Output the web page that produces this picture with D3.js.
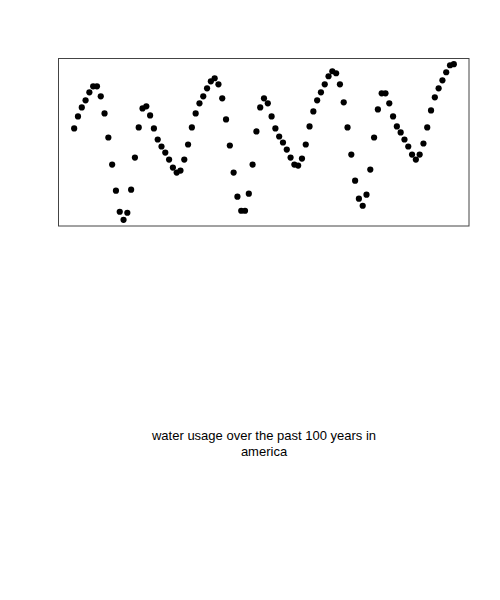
<!DOCTYPE html>
<html>
<head>
<meta charset="utf-8">
<script src="https://cdn.jsdelivr.net/npm/d3@7"></script>
<style>
  html, body { margin: 0; padding: 0; background: #fff; }
  svg { display: block; }
</style>
</head>
<body>
<svg id="chart" width="500" height="600"></svg>
<script>
const years = d3.range(0, 101);
const usage = [
  91, 103, 112, 119, 127, 133, 133, 123, 106, 82,
  55, 29, 8, 0, 7, 30, 62, 92, 111, 113,
  104, 91, 80, 73, 67, 60, 52, 47, 49, 60,
  75, 92, 106, 116, 123, 131, 138, 141, 135, 121,
  100, 74, 47, 23, 9, 9, 26, 55, 88, 112,
  121, 116, 103, 91, 83, 77, 70, 62, 55, 54,
  61, 75, 93, 108, 119, 127, 135, 143, 148, 146,
  135, 117, 92, 65, 39, 21, 14, 25, 50, 82,
  110, 126, 126, 116, 103, 93, 87, 80, 73, 65,
  60, 65, 76, 92, 109, 122, 131, 139, 147, 154,
  155
];
const titleLines = ["water usage over the past 100 years in", "america"];

const svg = d3.select("#chart");
const pLeft = 59, pRight = 469, pTop = 58, pBottom = 226;

const xExt = d3.extent(years), xPad = (xExt[1] - xExt[0]) * 0.04;
const yExt = d3.extent(usage), yPad = (yExt[1] - yExt[0]) * 0.04;
const x = d3.scaleLinear().domain([xExt[0] - xPad, xExt[1] + xPad]).range([pLeft, pRight]);
const y = d3.scaleLinear().domain([yExt[0] - yPad, yExt[1] + yPad]).range([pBottom, pTop]);

svg.append("rect")
  .attr("x", pLeft - 0.5).attr("y", pTop + 0.5)
  .attr("width", pRight - pLeft + 0.5).attr("height", pBottom - pTop - 0.5)
  .attr("fill", "none").attr("stroke", "#444").attr("stroke-width", 1);

svg.append("g").selectAll("circle")
  .data(years.map((yr, i) => ({ yr, v: usage[i] })))
  .join("circle")
  .attr("cx", d => x(d.yr))
  .attr("cy", d => y(d.v))
  .attr("r", 3.1)
  .attr("fill", "#000");

svg.append("text")
  .attr("x", (pLeft + pRight) / 2)
  .attr("y", 440)
  .attr("text-anchor", "middle")
  .attr("font-family", "Liberation Sans, Arial, sans-serif")
  .attr("font-size", 13)
  .attr("fill", "#000")
  .selectAll("tspan")
  .data(titleLines)
  .join("tspan")
  .attr("x", (pLeft + pRight) / 2)
  .attr("dy", (d, i) => i === 0 ? 0 : 16)
  .text(d => d);
</script>
</body>
</html>
